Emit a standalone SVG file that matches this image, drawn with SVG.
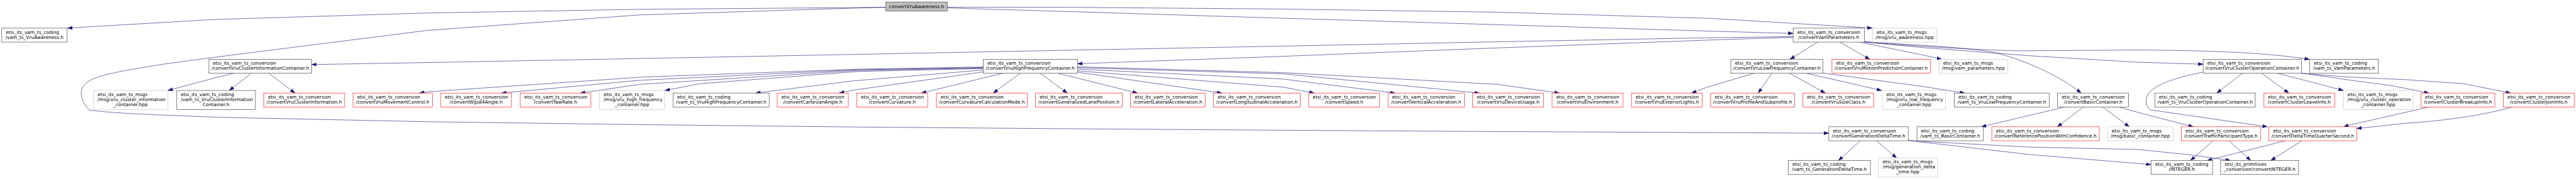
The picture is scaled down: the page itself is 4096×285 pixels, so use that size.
<svg xmlns="http://www.w3.org/2000/svg" width="4096" height="285" viewBox="0 0 4096 285">
<defs>
<style>
.node rect{fill:#ffffff;stroke:#404040;stroke-width:1.2}
.node.g rect{stroke:#bfbfbf;stroke-width:1.1}
.node.r rect{stroke:#ff0000;stroke-width:1.1}
.node.root rect{fill:#bfbfbf;stroke:#404040}
.node text{font-family:"DejaVu Sans","Liberation Sans",sans-serif;font-size:13.33px;fill:#000000}
.node text.l{text-anchor:start}
.node text.c{text-anchor:middle}
#edges path{fill:none;stroke:#191970;stroke-width:1.1;marker-end:url(#arr)}
</style>
<marker id="arr" markerUnits="userSpaceOnUse" markerWidth="14" markerHeight="10" refX="13.5" refY="4.75" orient="auto" viewBox="0 0 13.5 9.5">
<path d="M0,0 L13.5,4.75 L0,9.5 z" fill="#191970" stroke="#191970" stroke-width="0.8"/>
</marker>
</defs>
<rect x="0" y="0" width="4096" height="285" fill="#ffffff"/>
<g transform="scale(0.55622,0.55556)">
<g id="edges">
<path d="M2532,20.7 L2450,21.7 L1830,26.7 L1220,37.3 L610,56 L193,80.5"/>
<path d="M2532,21 L2450,23 L1830,42.7 L1220,87.3 L620,163.3 L474,183 C380,198 300,210 262,228 C225,246 222,280 255,315 C280,320 380,327 474,330 L620,336 L1230,349 L1840,357.3 L2450,364 L3060,369 L3670,373.3 L4280,377 L4890,380 L5228,381.7"/>
<path d="M2708,20.7 L3060,21 L3670,26 L4280,35 L4890,52.7 L5352,80.5"/>
<path d="M2708,22.7 L3060,33.3 L3670,52.3 L4280,70.7 L4890,89.3 L5126,95.7"/>
<path d="M5126,105 L4880,108.3 L4270,120 L3660,132.3 L3050,144 L2440,156 L1830,167.7 L1220,179.3 L891,185"/>
<path d="M5126,106.7 L4880,115 L4270,137.7 L3660,161.7 L3080,182.7"/>
<path d="M5195,121 L5117,170"/>
<path d="M5260,121 L5345,170"/>
<path d="M5317,121 L5500,158.3 L5551,170"/>
<path d="M5329.6,119.3 C5450,128 5600,133 5700,150 C5800,175 5900,225 5949,266.7"/>
<path d="M5329.6,120 C5500,135 5650,142 5766.8,145.7 L6110,143.3 C6350,145 6480,152 6602,170"/>
<path d="M5329.6,120.7 L5500,136.7 L5806,160 L6110,178.3 L6298,184"/>
<path d="M669,210 L620,221.7 L480,259.3"/>
<path d="M717.5,210.7 L655.5,259.3"/>
<path d="M769,210.7 L843.3,266.7"/>
<path d="M2811,192 L2450,198.3 L1840,220.7 L1220,263.3 L1199,266.7"/>
<path d="M2811,193.5 L2450,200 L1830,230 L1433.5,266.7"/>
<path d="M2811,195 L2450,202 L1830,241.7 L1659,266.7"/>
<path d="M2811,196.5 L2450,205 L2000,240 L1901,259.3"/>
<path d="M2811,200.7 L2440,231.7 L2160,266.7"/>
<path d="M2811,206 L2440,258.3 L2399,266.7"/>
<path d="M2866.3,210 L2634,266.7"/>
<path d="M2916.5,210 L2839.4,266.7"/>
<path d="M2973.8,210 L3051,266.7"/>
<path d="M3024.4,210 L3251.7,266.7"/>
<path d="M3080,206.7 L3493,266.7"/>
<path d="M3080,203 L3670,250 L3757,266.7"/>
<path d="M3080,198 L3670,226.7 L3988,266.7"/>
<path d="M3080,194 L3670,211.7 L4229,266.7"/>
<path d="M3080,191.5 L3670,208.3 L4280,241.7 L4458,266.7"/>
<path d="M5014.4,210 L4880,250 L4835.4,266.7"/>
<path d="M5065,210 L5026.3,266.7"/>
<path d="M5116,210 L5218,266.7"/>
<path d="M5164,210 L5379,259.3"/>
<path d="M5211.4,209.3 L5500,248.3 L5616.5,266.7"/>
<path d="M6410.4,210 L6337.2,266.7"/>
<path d="M6465.7,210 L6543,266.7"/>
<path d="M6511.2,210 L6699,259.3"/>
<path d="M6579,209.3 L6720,230 L6835,245 L6943.6,266.7"/>
<path d="M6579,210 L6710,220.7 L6876.8,228.3 L7043.7,240 L7177,266.7"/>
<path d="M6297.7,206.7 C6220,222 6150,245 6138,275 C6130,295 6140,310 6147.4,315 L6481.6,363.3"/>
<path d="M5903.2,306.7 L5664,363.3"/>
<path d="M5955.8,306.7 L5881.5,363.3"/>
<path d="M6011.1,306.7 L6087,363.3"/>
<path d="M6057.4,306.7 L6110,321.7 L6270,363.3"/>
<path d="M6943.6,306.7 L6710,360 L6700,363.3"/>
<path d="M7181.3,306.7 C7100,330 7000,345 6876.8,353.3 L6737,368.3"/>
<path d="M6326.2,403.3 L6262,460"/>
<path d="M6372,403.3 L6434,460"/>
<path d="M6533,403.3 L6309.6,460"/>
<path d="M6580.4,403.3 L6491.4,460"/>
<path d="M5318,403.3 L5255.6,460"/>
<path d="M5364.4,403.3 L5421.7,452.7"/>
<path d="M5454.5,401.7 L5490,405 L5806,421.7 L6110,428.3 L6258,443.3 L6376.8,460"/>
<path d="M5454.5,402.7 L5490,406.7 L5806,443.3 L6110,468.3 L6149,471.7"/>
</g>

<g id="n_root" class="node root"><rect x="2532" y="5.7" width="176" height="26"/><text class="c" x="2620" y="23">convertVruAwareness.h</text></g>

<g id="n_aw_coding" class="node"><rect x="5" y="80.7" width="187" height="40"/><text class="l" x="16.7" y="96.7">etsi_its_vam_ts_coding</text><text class="c" x="98.5" y="111">/vam_ts_VruAwareness.h</text></g>
<g id="n_vamparams" class="node"><rect x="5126" y="80.7" width="204" height="40"/><text class="l" x="5137.7" y="96.7">etsi_its_vam_ts_conversion</text><text class="c" x="5228" y="111">/convertVamParameters.h</text></g>
<g id="n_aw_msgs" class="node g"><rect x="5353" y="80.7" width="184" height="40"/><text class="l" x="5364.7" y="96.7">etsi_its_vam_ts_msgs</text><text class="c" x="5445" y="111">/msg/vru_awareness.hpp</text></g>

<g id="n_clinfo_conv" class="node"><rect x="597" y="170" width="294" height="40"/><text class="l" x="608.7" y="186">etsi_its_vam_ts_conversion</text><text class="c" x="744" y="200.3">/convertVruClusterInformationContainer.h</text></g>
<g id="n_hf_conv" class="node"><rect x="2811" y="170" width="269" height="40"/><text class="l" x="2822.7" y="186">etsi_its_vam_ts_conversion</text><text class="c" x="2945.5" y="200.3">/convertVruHighFrequencyContainer.h</text></g>
<g id="n_lf_conv" class="node"><rect x="4948" y="170" width="263" height="40"/><text class="l" x="4959.7" y="186">etsi_its_vam_ts_conversion</text><text class="c" x="5079.5" y="200.3">/convertVruLowFrequencyContainer.h</text></g>
<g id="n_motion" class="node r"><rect x="5237" y="170" width="281" height="40"/><text class="l" x="5248.7" y="186">etsi_its_vam_ts_conversion</text><text class="c" x="5377.5" y="200.3">/convertVruMotionPredictionContainer.h</text></g>
<g id="n_vp_msgs" class="node g"><rect x="5543" y="170" width="197" height="40"/><text class="l" x="5554.7" y="186">etsi_its_vam_ts_msgs</text><text class="c" x="5641.5" y="200.3">/msg/vam_parameters.hpp</text></g>
<g id="n_cop_conv" class="node"><rect x="6298" y="170" width="281" height="40"/><text class="l" x="6309.7" y="186">etsi_its_vam_ts_conversion</text><text class="c" x="6438.5" y="200.3">/convertVruClusterOperationContainer.h</text></g>
<g id="n_vp_coding" class="node"><rect x="6603" y="170" width="196" height="40"/><text class="l" x="6614.7" y="186">etsi_its_vam_ts_coding</text><text class="c" x="6701" y="200.3">/vam_ts_VamParameters.h</text></g>

<g id="n_clinfo_msgs" class="node g"><rect x="267" y="259.3" width="213" height="54.7"/><text class="l" x="278.7" y="275">etsi_its_vam_ts_msgs</text><text class="l" x="278.7" y="289.3">/msg/vru_cluster_information</text><text class="c" x="373.5" y="303.6">_container.hpp</text></g>
<g id="n_clinfo_coding" class="node"><rect x="505" y="259.3" width="225" height="54.7"/><text class="l" x="516.7" y="275">etsi_its_vam_ts_coding</text><text class="l" x="516.7" y="289.3">/vam_ts_VruClusterInformation</text><text class="c" x="617.5" y="303.6">Container.h</text></g>
<g id="n_clinfo" class="node r"><rect x="754" y="266.7" width="231" height="40"/><text class="l" x="765.7" y="282.7">etsi_its_vam_ts_conversion</text><text class="c" x="869.5" y="297">/convertVruClusterInformation.h</text></g>
<g id="n_movectrl" class="node r"><rect x="1009" y="266.7" width="227" height="40"/><text class="l" x="1020.7" y="282.7">etsi_its_vam_ts_conversion</text><text class="c" x="1122.5" y="297">/convertVruMovementControl.h</text></g>
<g id="n_wgs84" class="node r"><rect x="1260" y="266.7" width="202" height="40"/><text class="l" x="1271.7" y="282.7">etsi_its_vam_ts_conversion</text><text class="c" x="1361" y="297">/convertWgs84Angle.h</text></g>
<g id="n_yawrate" class="node r"><rect x="1487" y="266.7" width="202" height="40"/><text class="l" x="1498.7" y="282.7">etsi_its_vam_ts_conversion</text><text class="c" x="1588" y="297">/convertYawRate.h</text></g>
<g id="n_hf_msgs" class="node g"><rect x="1714" y="259.3" width="186" height="54.7"/><text class="l" x="1725.7" y="275">etsi_its_vam_ts_msgs</text><text class="l" x="1725.7" y="289.3">/msg/vru_high_frequency</text><text class="c" x="1807" y="303.6">_container.hpp</text></g>
<g id="n_hf_coding" class="node"><rect x="1924" y="266.7" width="275" height="40"/><text class="l" x="1935.7" y="282.7">etsi_its_vam_ts_coding</text><text class="c" x="2061.5" y="297">/vam_ts_VruHighFrequencyContainer.h</text></g>
<g id="n_cartangle" class="node r"><rect x="2222" y="266.7" width="203" height="40"/><text class="l" x="2233.7" y="282.7">etsi_its_vam_ts_conversion</text><text class="c" x="2323.5" y="297">/convertCartesianAngle.h</text></g>
<g id="n_curv" class="node r"><rect x="2449" y="266.7" width="203" height="40"/><text class="l" x="2460.7" y="282.7">etsi_its_vam_ts_conversion</text><text class="c" x="2550.5" y="297">/convertCurvature.h</text></g>
<g id="n_curvcalc" class="node r"><rect x="2677" y="266.7" width="260" height="40"/><text class="l" x="2688.7" y="282.7">etsi_its_vam_ts_conversion</text><text class="c" x="2807" y="297">/convertCurvatureCalculationMode.h</text></g>
<g id="n_genlane" class="node r"><rect x="2960" y="266.7" width="248" height="40"/><text class="l" x="2971.7" y="282.7">etsi_its_vam_ts_conversion</text><text class="c" x="3084" y="297">/convertGeneralizedLanePosition.h</text></g>
<g id="n_latacc" class="node r"><rect x="3232" y="266.7" width="213" height="40"/><text class="l" x="3243.7" y="282.7">etsi_its_vam_ts_conversion</text><text class="c" x="3338.5" y="297">/convertLateralAcceleration.h</text></g>
<g id="n_lonacc" class="node r"><rect x="3469" y="266.7" width="248" height="40"/><text class="l" x="3480.7" y="282.7">etsi_its_vam_ts_conversion</text><text class="c" x="3593" y="297">/convertLongitudinalAcceleration.h</text></g>
<g id="n_speed" class="node r"><rect x="3741" y="266.7" width="203" height="40"/><text class="l" x="3752.7" y="282.7">etsi_its_vam_ts_conversion</text><text class="c" x="3842.5" y="297">/convertSpeed.h</text></g>
<g id="n_vertacc" class="node r"><rect x="3968" y="266.7" width="218" height="40"/><text class="l" x="3979.7" y="282.7">etsi_its_vam_ts_conversion</text><text class="c" x="4077" y="297">/convertVerticalAcceleration.h</text></g>
<g id="n_devusage" class="node r"><rect x="4210" y="266.7" width="203" height="40"/><text class="l" x="4221.7" y="282.7">etsi_its_vam_ts_conversion</text><text class="c" x="4311.5" y="297">/convertVruDeviceUsage.h</text></g>
<g id="n_env" class="node r"><rect x="4437" y="266.7" width="203" height="40"/><text class="l" x="4448.7" y="282.7">etsi_its_vam_ts_conversion</text><text class="c" x="4538.5" y="297">/convertVruEnvironment.h</text></g>
<g id="n_extlights" class="node r"><rect x="4664" y="266.7" width="202" height="40"/><text class="l" x="4675.7" y="282.7">etsi_its_vam_ts_conversion</text><text class="c" x="4765" y="297">/convertVruExteriorLights.h</text></g>
<g id="n_profile" class="node r"><rect x="4890" y="266.7" width="240" height="40"/><text class="l" x="4901.7" y="282.7">etsi_its_vam_ts_conversion</text><text class="c" x="5010" y="297">/convertVruProfileAndSubprofile.h</text></g>
<g id="n_sizeclass" class="node r"><rect x="5154" y="266.7" width="203" height="40"/><text class="l" x="5165.7" y="282.7">etsi_its_vam_ts_conversion</text><text class="c" x="5255.5" y="297">/convertVruSizeClass.h</text></g>
<g id="n_lf_msgs" class="node g"><rect x="5381" y="259.3" width="181" height="54.7"/><text class="l" x="5392.7" y="275">etsi_its_vam_ts_msgs</text><text class="l" x="5392.7" y="289.3">/msg/vru_low_frequency</text><text class="c" x="5471.5" y="303.6">_container.hpp</text></g>
<g id="n_lf_coding" class="node"><rect x="5587" y="266.7" width="271" height="40"/><text class="l" x="5598.7" y="282.7">etsi_its_vam_ts_coding</text><text class="c" x="5722.5" y="297">/vam_ts_VruLowFrequencyContainer.h</text></g>
<g id="n_basic_conv" class="node"><rect x="5882" y="266.7" width="203" height="40"/><text class="l" x="5893.7" y="282.7">etsi_its_vam_ts_conversion</text><text class="c" x="5983.5" y="297">/convertBasicContainer.h</text></g>
<g id="n_cop_coding" class="node"><rect x="6160" y="266.7" width="287" height="40"/><text class="l" x="6171.7" y="282.7">etsi_its_vam_ts_coding</text><text class="c" x="6303.5" y="297">/vam_ts_VruClusterOperationContainer.h</text></g>
<g id="n_leave" class="node r"><rect x="6472" y="266.7" width="202" height="40"/><text class="l" x="6483.7" y="282.7">etsi_its_vam_ts_conversion</text><text class="c" x="6573" y="297">/convertClusterLeaveInfo.h</text></g>
<g id="n_cop_msgs" class="node g"><rect x="6699" y="259.3" width="199" height="54.7"/><text class="l" x="6710.7" y="275">etsi_its_vam_ts_msgs</text><text class="l" x="6710.7" y="289.3">/msg/vru_cluster_operation</text><text class="c" x="6798.5" y="303.6">_container.hpp</text></g>
<g id="n_breakup" class="node r"><rect x="6921" y="266.7" width="211" height="40"/><text class="l" x="6932.7" y="282.7">etsi_its_vam_ts_conversion</text><text class="c" x="7026.5" y="297">/convertClusterBreakupInfo.h</text></g>
<g id="n_join" class="node r"><rect x="7156" y="266.7" width="203" height="40"/><text class="l" x="7167.7" y="282.7">etsi_its_vam_ts_conversion</text><text class="c" x="7257.5" y="297">/convertClusterJoinInfo.h</text></g>

<g id="n_gdt_conv" class="node"><rect x="5228" y="363.3" width="227" height="40"/><text class="l" x="5239.7" y="379.3">etsi_its_vam_ts_conversion</text><text class="c" x="5341.5" y="393.6">/convertGenerationDeltaTime.h</text></g>
<g id="n_basic_coding" class="node"><rect x="5480" y="363.3" width="190" height="40"/><text class="l" x="5491.7" y="379.3">etsi_its_vam_ts_coding</text><text class="c" x="5575" y="393.6">/vam_ts_BasicContainer.h</text></g>
<g id="n_refpos" class="node r"><rect x="5694" y="363.3" width="307" height="40"/><text class="l" x="5705.7" y="379.3">etsi_its_vam_ts_conversion</text><text class="c" x="5847.5" y="393.6">/convertReferencePositionWithConfidence.h</text></g>
<g id="n_basic_msgs" class="node g"><rect x="6025" y="363.3" width="187" height="40"/><text class="l" x="6036.7" y="379.3">etsi_its_vam_ts_msgs</text><text class="c" x="6118.5" y="393.6">/msg/basic_container.hpp</text></g>
<g id="n_tpt" class="node r"><rect x="6236" y="363.3" width="226" height="40"/><text class="l" x="6247.7" y="379.3">etsi_its_vam_ts_conversion</text><text class="c" x="6349" y="393.6">/convertTrafficParticipantType.h</text></g>
<g id="n_dtqs" class="node r"><rect x="6486" y="363.3" width="251" height="40"/><text class="l" x="6497.7" y="379.3">etsi_its_vam_ts_conversion</text><text class="c" x="6611.5" y="393.6">/convertDeltaTimeQuarterSecond.h</text></g>

<g id="n_gdt_coding" class="node"><rect x="5112" y="460" width="235" height="40"/><text class="l" x="5123.7" y="476">etsi_its_vam_ts_coding</text><text class="c" x="5229.5" y="490.3">/vam_ts_GenerationDeltaTime.h</text></g>
<g id="n_gdt_msgs" class="node g"><rect x="5370" y="452.7" width="168" height="54.7"/><text class="l" x="5381.7" y="468.4">etsi_its_vam_ts_msgs</text><text class="l" x="5381.7" y="482.7">/msg/generation_delta</text><text class="c" x="5454" y="497">_time.hpp</text></g>
<g id="n_integer" class="node"><rect x="6149" y="460" width="176" height="40"/><text class="l" x="6160.7" y="476">etsi_its_vam_ts_coding</text><text class="c" x="6237" y="490.3">/INTEGER.h</text></g>
<g id="n_convint" class="node"><rect x="6348" y="460" width="223" height="40"/><text class="l" x="6359.7" y="476">etsi_its_primitives</text><text class="c" x="6459.5" y="490.3">_conversion/convertINTEGER.h</text></g>
</g>
</svg>
